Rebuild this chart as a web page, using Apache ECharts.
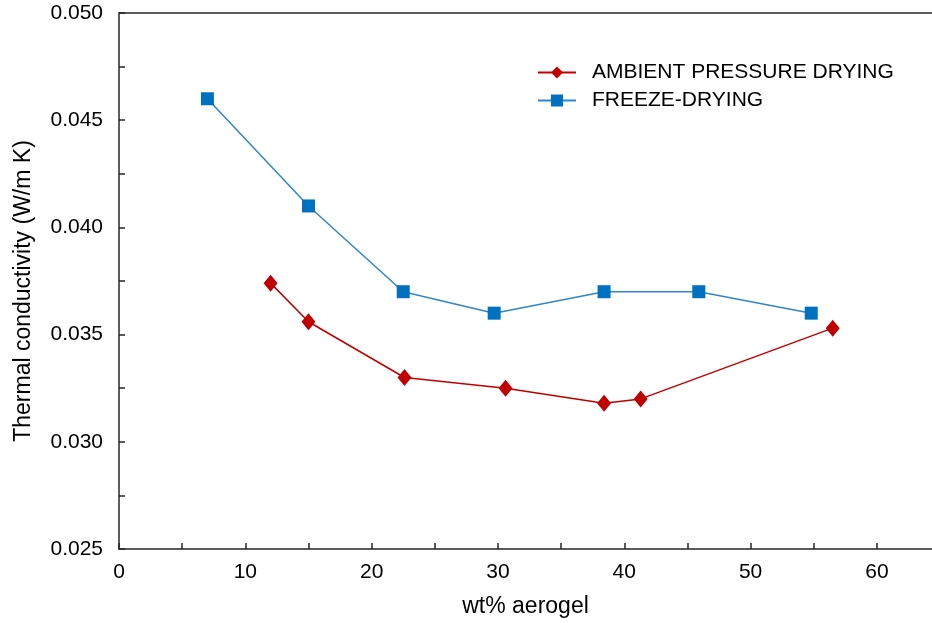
<!DOCTYPE html>
<html><head><meta charset="utf-8">
<script src="https://cdn.jsdelivr.net/npm/echarts@6/dist/echarts.min.js"></script>
<style>html,body{margin:0;padding:0;background:#fff}#c{width:932px;height:623px}</style>
</head><body><div id="c"></div>
<script>
const apdX = [12.0, 15.0, 22.6, 30.6, 38.4, 41.3, 56.5];
const apdY = [0.0374, 0.0356, 0.0330, 0.0325, 0.0318, 0.0320, 0.0353];
const fdX = [7.0, 15.0, 22.5, 29.7, 38.4, 45.9, 54.8];
const fdY = [0.0460, 0.0410, 0.0370, 0.0360, 0.0370, 0.0370, 0.0360];
const seriesNames = ['AMBIENT PRESSURE DRYING', 'FREEZE-DRYING'];
const xTitle = 'wt% aerogel';
const yTitle = 'Thermal conductivity (W/m K)';

const font = 'Liberation Sans, Arial, sans-serif';
const chart = echarts.init(document.getElementById('c'), null, {renderer: 'canvas'});
const axisCol = '#262626';
const xMax = 64.36;
chart.setOption({
  animation: false,
  backgroundColor: '#fff',
  grid: {left: 119, top: 13, bottom: 73, right: 0, show: false},
  legend: {
    orient: 'vertical', left: 537, top: 62, padding: 0, itemWidth: 38, itemHeight: 15, itemGap: 7,
    textStyle: {fontFamily: font, fontSize: 21, color: '#000', padding: [0, 0, 0, 11]},
    data: seriesNames
  },
  xAxis: [{
    type: 'value', min: 0, max: xMax, interval: 5,
    axisLine: {lineStyle: {color: axisCol, width: 1.5}},
    axisTick: {inside: true, length: 6, lineStyle: {color: axisCol, width: 1.5}},
    splitLine: {show: false},
    axisLabel: {fontFamily: font, fontSize: 21, color: '#000', margin: 13, showMaxLabel: false,
      formatter: v => (Math.abs(v - Math.round(v)) < 1e-6 && Math.round(v) % 10 === 0) ? String(Math.round(v)) : ''},
    name: xTitle, nameLocation: 'middle', nameGap: 46,
    nameTextStyle: {fontFamily: font, fontSize: 23, color: '#000'}
  }, {
    type: 'value', position: 'top', min: 0, max: xMax,
    axisLine: {show: true, onZero: false, lineStyle: {color: axisCol, width: 1.5}},
    axisTick: {show: false}, axisLabel: {show: false}, splitLine: {show: false}
  }],
  yAxis: {
    type: 'value', min: 0.025, max: 0.050, interval: 0.0025,
    axisLine: {show: true, lineStyle: {color: axisCol, width: 1.5}},
    axisTick: {show: true, inside: true, length: 6, lineStyle: {color: axisCol, width: 1.5}},
    splitLine: {show: false},
    axisLabel: {fontFamily: font, fontSize: 21, color: '#000', margin: 16,
      formatter: v => { const k = Math.round(v * 10000); return k % 50 === 0 ? v.toFixed(3) : ''; }},
    name: yTitle, nameLocation: 'middle', nameGap: 84, nameRotate: 90,
    nameTextStyle: {fontFamily: font, fontSize: 23, color: '#000', padding: [0, 20, 0, 0]}
  },
  series: [
    {name: seriesNames[0], type: 'line', data: apdX.map((x, i) => [x, apdY[i]]),
     symbol: 'diamond', symbolSize: [14, 17],
     itemStyle: {color: '#C00000'}, lineStyle: {color: '#C00000', width: 1.5}},
    {name: seriesNames[1], type: 'line', data: fdX.map((x, i) => [x, fdY[i]]),
     symbol: 'rect', symbolSize: 13,
     itemStyle: {color: '#0070C0'}, lineStyle: {color: '#2F86CC', width: 1.5}}
  ]
});
</script></body></html>
